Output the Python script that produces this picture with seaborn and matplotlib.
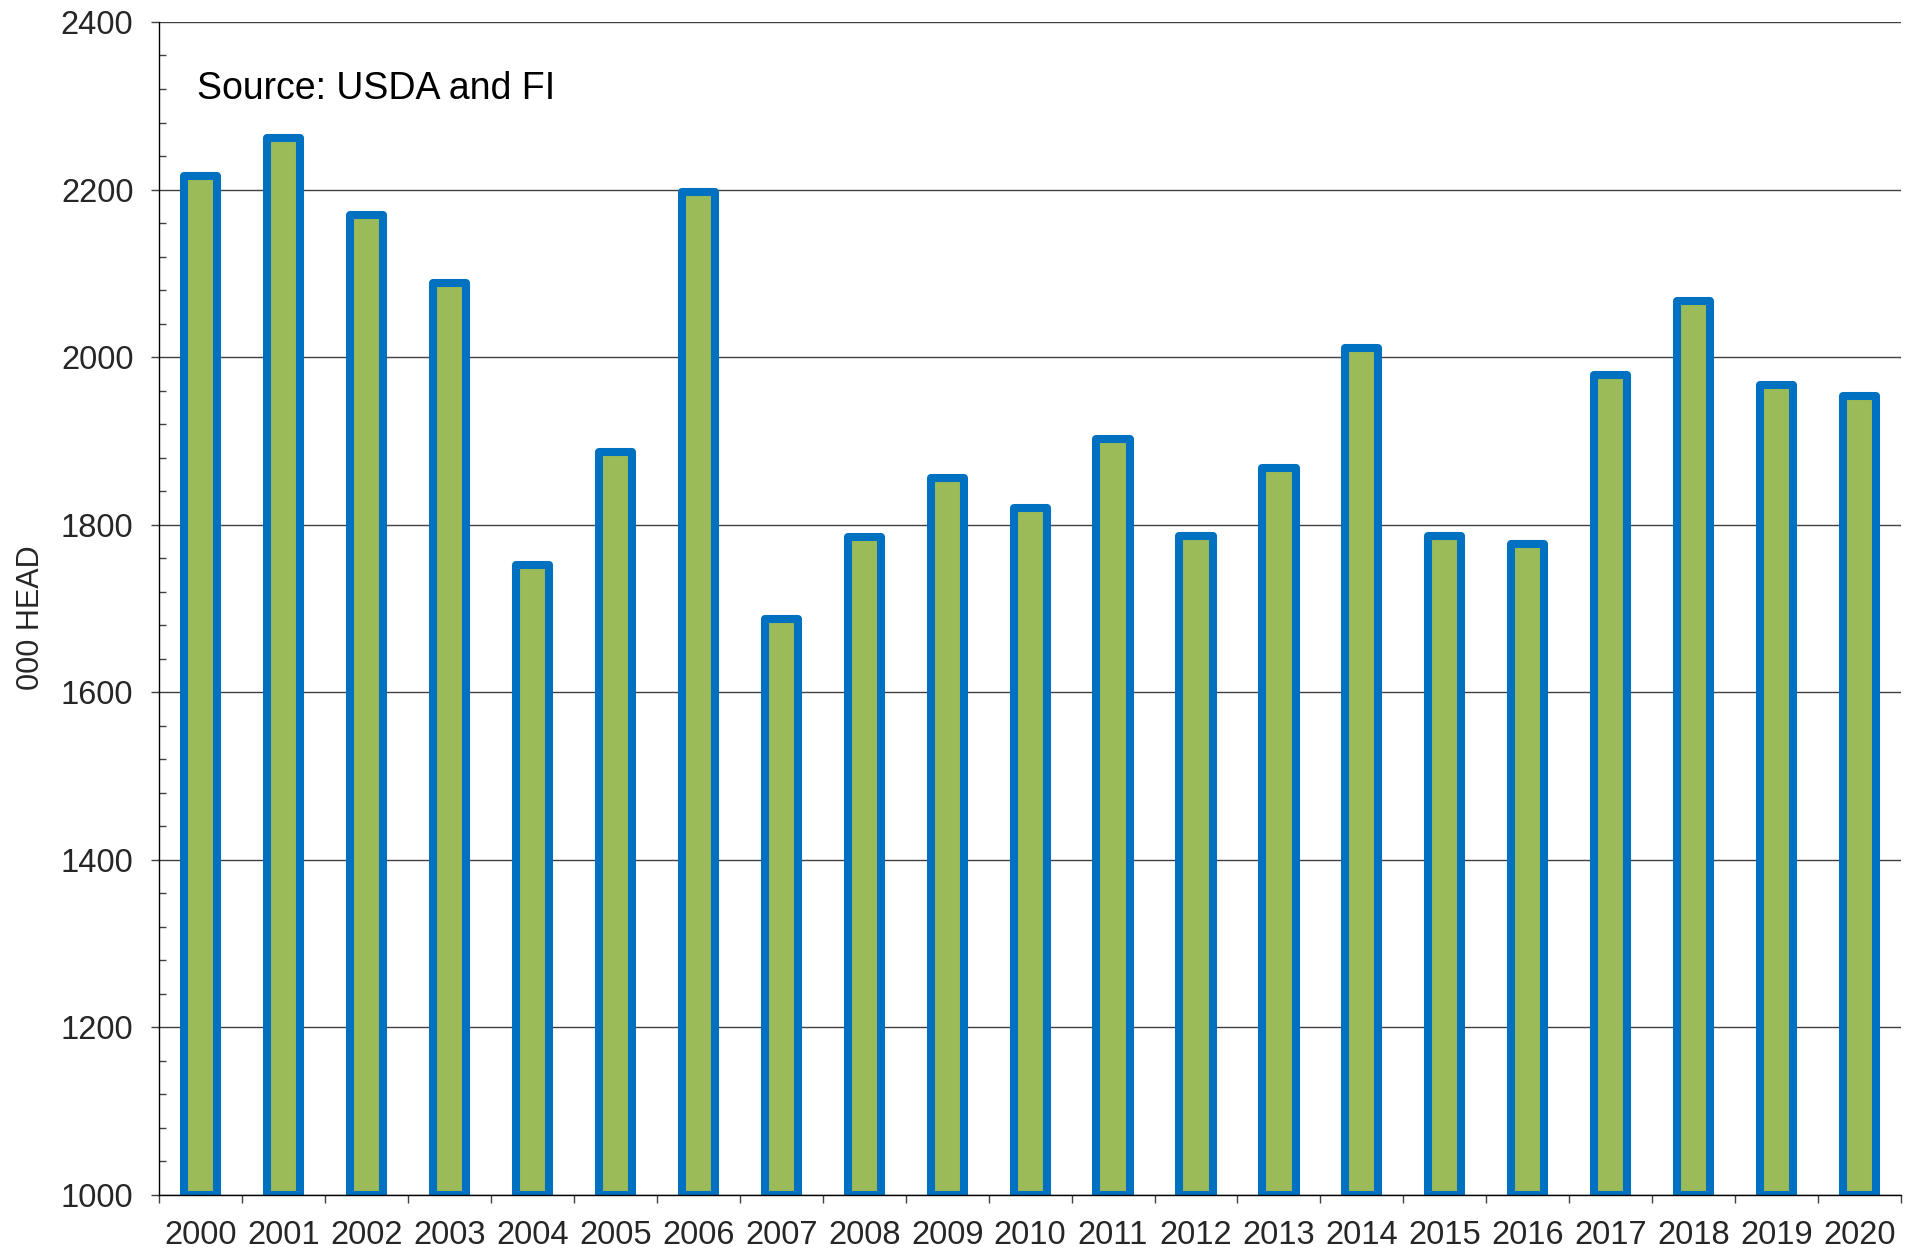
import matplotlib
matplotlib.use("Agg")
import matplotlib.pyplot as plt
import seaborn as sns
import numpy as np
from matplotlib.ticker import MultipleLocator, FixedLocator, NullFormatter

years = [str(y) for y in range(2000, 2021)]
head = [2216, 2262, 2169, 2088, 1752, 1886, 2197, 1687, 1785, 1856, 1820,
        1902, 1786, 1867, 2011, 1786, 1777, 1979, 2067, 1967, 1953]

y_min, y_max = 1000, 2400
source_note = "Source: USDA and FI"
y_label = "000 HEAD"

green = "#9BBB59"
blue = "#0070C0"

sns.set_style("white")
plt.rcParams["font.family"] = ["Liberation Sans", "DejaVu Sans"]

fig = plt.figure(figsize=(19.17, 12.57), dpi=100)
ax = fig.add_axes([0.083, 0.0497, 0.9087, 0.9328])

sns.barplot(x=years, y=head, width=0.4, color=green, saturation=1,
            edgecolor=blue, linewidth=5.8, ax=ax)

# bars start at the axis floor so the bottom outline shows
for p in ax.patches:
    top = p.get_y() + p.get_height()
    p.set_y(y_min)
    p.set_height(top - y_min)
    p.set_joinstyle("round")

ax.set_ylim(y_min, y_max)
ax.set_xlim(-0.5, len(years) - 0.5)

# grid lines
ax.yaxis.set_major_locator(MultipleLocator(200))
ax.yaxis.set_minor_locator(MultipleLocator(40))
ax.grid(axis="y", which="major", color="#404040", linewidth=1)
ax.set_axisbelow(True)

# x: ticks on category edges, labels at centres
ax.xaxis.set_major_locator(FixedLocator(np.arange(-0.5, len(years), 1.0)))
ax.xaxis.set_major_formatter(NullFormatter())
ax.xaxis.set_minor_locator(FixedLocator(np.arange(len(years))))
ax.set_xticklabels(years, minor=True)
ax.tick_params(axis="x", which="major", direction="out", length=6, width=1,
               color="#404040", bottom=True)
ax.tick_params(axis="x", which="minor", length=0, pad=18, labelsize=23.5,
               bottom=True)

ax.tick_params(axis="y", which="major", direction="out", length=6, width=1,
               color="#404040", left=True, labelsize=23.5, pad=12.5)
ax.tick_params(axis="y", which="minor", direction="in", length=5, width=1,
               color="#404040", left=True)

for s in ["top", "right"]:
    ax.spines[s].set_visible(False)
ax.spines["left"].set_color("black")
ax.spines["bottom"].set_color("black")
ax.spines["left"].set_linewidth(1)
ax.spines["bottom"].set_linewidth(1)

ax.set_ylabel(y_label, fontsize=22)
ax.yaxis.set_label_coords(-0.0647, 0.492)
ax.set_xlabel("")

ax.text(0.022, 0.943, source_note, transform=ax.transAxes, fontsize=27,
        ha="left", va="center", color="black")

fig.savefig("out.png", dpi=100)
